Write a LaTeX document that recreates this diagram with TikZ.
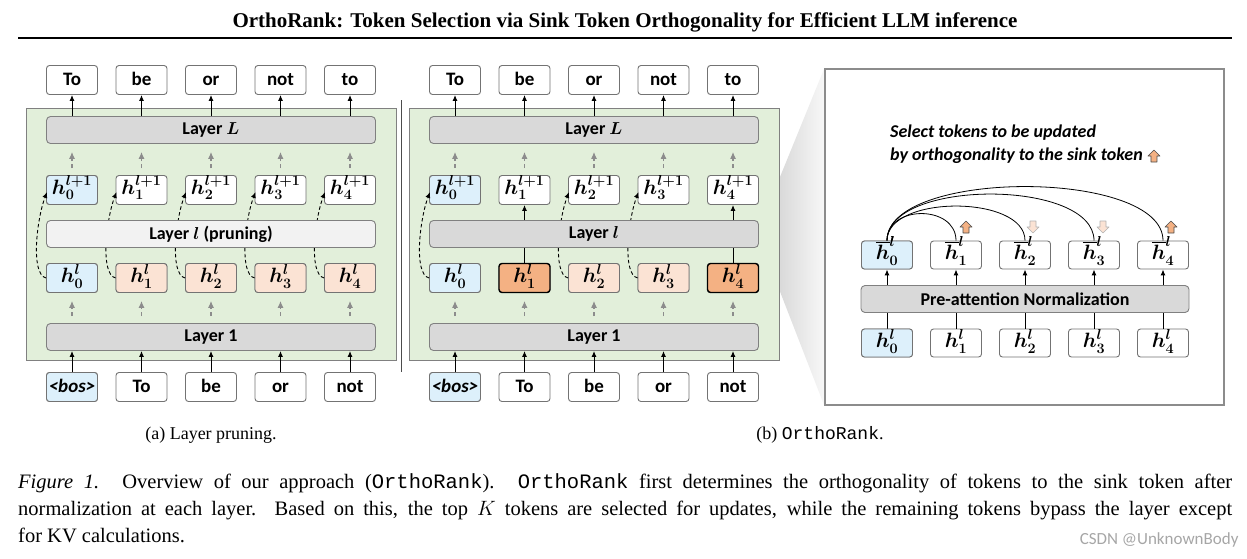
\documentclass[tikz,border=0pt]{standalone}
\usepackage{fontspec}
\usepackage{amsmath,bm}
\setmainfont{Liberation Serif}
\setmonofont{Liberation Mono}
\newfontfamily\carl{Carlito}
\usetikzlibrary{arrows.meta,calc}
\definecolor{grn}{HTML}{E2EFDA}
\definecolor{lblue}{HTML}{DDF0FB}
\definecolor{lor}{HTML}{FBE3D4}
\definecolor{sor}{HTML}{F4B183}
\newcommand\uparr[1]{\draw[fill=sor,draw=black!70,line width=0.6pt,line join=round] (#1) ++(0,-6) -- ++(6,6) -- ++(-3,0) -- ++(0,6) -- ++(-6,0) -- ++(0,-6) -- ++(-3,0) -- cycle;}
\newcommand\dnarr[1]{\draw[fill=lor,draw=black!30,line width=0.6pt,line join=round] (#1) ++(0,6) -- ++(6,-6) -- ++(-3,0) -- ++(0,-6) -- ++(-6,0) -- ++(0,6) -- ++(-3,0) -- cycle;}
\begin{document}
\begin{tikzpicture}[x=1pt,y=-1pt,
 tok/.style={draw=black!55, line width=0.9pt, rounded corners=3pt, fill=white, minimum width=51pt, minimum height=29pt, inner sep=0pt, text height=12pt, text depth=1pt, font=\carl\bfseries\fontsize{19}{19}\selectfont},
 hbox/.style={tok, text height=13pt, text depth=4pt, font=\boldmath\fontsize{20}{20}\selectfont},
 layer/.style={draw=black!50, line width=0.9pt, rounded corners=4pt, fill=black!15, minimum width=329pt, minimum height=27pt, inner sep=0pt, font=\carl\bfseries\fontsize{18}{18}\selectfont},
 arr/.style={-{Latex[length=6pt,width=5pt]}, line width=1pt},
 garr/.style={-{Latex[length=7pt,width=6pt]}, line width=1.1pt, black!45, dash pattern=on 4pt off 3pt},
 curv/.style={-{Latex[length=6pt,width=5pt]}, line width=0.9pt, dash pattern=on 3.5pt off 2.5pt},
 sel/.style={draw=black, line width=1.4pt, fill=sor}]
\useasboundingbox (0,0) rectangle (1247,558);
% title
\node[font=\bfseries\fontsize{21}{21}\selectfont] (title) at (625,22) {OrthoRank: Token Selection via Sink Token Orthogonality for Efficient LLM inference};
\draw[line width=1.2pt] (18,38) coordinate (r1) -- (1232,38) coordinate (r2);
% wedge
\shade[left color=black!20, right color=black!3] (760,226) -- (824,69) -- (824,405) -- (760,240) -- cycle;
% divider
\draw[line width=0.9pt, black!70] (401,100) coordinate (d1) -- (401,372) coordinate (d2);
\foreach \p/\ox in {a/72,b/455}{
  \node[draw=black!50, line width=0.9pt, fill=grn, minimum width=370pt, minimum height=252pt, inner sep=0pt] (\p-g) at ($(\ox,234)+(139,0)$) {};
  \foreach \i/\wo/\wi in {0/To/{\textit{<bos>}},1/be/To,2/or/be,3/not/or,4/to/not}{
    \node[tok] (\p-o\i) at ($(\ox,80)+(69.5*\i,0)$) {\wo};
    \node[tok] (\p-in\i) at ($(\ox,387)+(69.5*\i,0)$) {\wi};
    \node[hbox] (\p-hp\i) at ($(\ox,190)+(69.5*\i,0)$) {$h^{l+1}_{\i}$};
    \node[hbox] (\p-h\i) at ($(\ox,278)+(69.5*\i,0)$) {$h^{l}_{\i}$};
  }
}
% fills
\foreach \p in {a,b}{
  \node[hbox, fill=lblue] at (\p-hp0) {$h^{l+1}_{0}$};
  \node[hbox, fill=lblue] at (\p-h0) {$h^{l}_{0}$};
  \node[tok, fill=lblue] at (\p-in0) {\textit{<bos>}};
}
\foreach \i in {1,2,3,4}{\node[hbox, fill=lor] at (a-h\i) {$h^{l}_{\i}$};}
\foreach \i in {2,3}{\node[hbox, fill=lor] at (b-h\i) {$h^{l}_{\i}$};}
\foreach \i in {1,4}{\node[hbox, sel] at (b-h\i) {$h^{l}_{\i}$};}
% dashed bypass curves
\foreach \p/\i in {a/0,a/1,a/2,a/3,a/4,b/0,b/2,b/3}{
  \draw[curv] (\p-h\i.west) .. controls +(-16,-4) and +(-10,26) .. ($(\p-hp\i.west)+(1,2)$);
}
% layers
\foreach \p/\ox in {a/72,b/455}{
  \node[layer] (\p-LL) at ($(\ox,130)+(139,0)$) {Layer $\bm{L}$};
  \node[layer] (\p-L1) at ($(\ox,337)+(139,0)$) {Layer 1};
  \foreach \i in {0,...,4}{
    \draw[arr] (\p-in\i.north) -- (\p-in\i |- \p-L1.south);
    \draw[arr] (\p-o\i |- \p-LL.north) -- (\p-o\i.south);
    \draw[garr] ($(\p-hp\i.north)+(0,-7)$) -- ($(\p-hp\i |- \p-LL.south)+(0,8)$);
    \draw[garr] ($(\p-L1.north -| \p-h\i)+(0,-7)$) -- ($(\p-h\i.south)+(0,8)$);
  }
}
\node[layer, fill=black!5] (a-Ll) at (211,234) {Layer $\bm{l}$ (pruning)};
\node[layer] (b-Ll) at (594,234) {Layer $\bm{l}$};
\foreach \i in {1,4}{
  \draw[line width=1pt] (b-h\i.north) -- (b-h\i |- b-Ll.south);
  \draw[arr] (b-h\i |- b-Ll.north) -- (b-hp\i.south);
}
% inset
\node[draw=black!45, line width=1.2pt, fill=white, minimum width=399pt, minimum height=336pt, inner sep=0pt] (inset) at (1024.5,237) {};
\node[anchor=west, font=\carl\bfseries\itshape\fontsize{18}{18}\selectfont, inner sep=0pt] (s1) at (890,133) {Select tokens to be updated};
\node[anchor=west, font=\carl\bfseries\itshape\fontsize{18}{18}\selectfont, inner sep=0pt] (s2) at (890,156) {by orthogonality to the sink token};
\uparr{$(s2.east)+(11,0)$}
\node[layer, minimum width=328pt] (norm) at (1025,299) {Pre-attention Normalization};
\foreach \i in {0,...,4}{
  \node[hbox, minimum height=28pt] (ib\i) at ($(887,255)+(69*\i,0)$) {$\overline{h}^{l}_{\i}$};
  \node[hbox, minimum height=28pt] (ih\i) at ($(887,343)+(69*\i,0)$) {$h^{l}_{\i}$};
  \draw[arr] (ib\i |- norm.north) -- (ib\i.south);
  \draw[line width=1pt] (ih\i.north) -- (ih\i |- norm.south);
}
\node[hbox, minimum height=28pt, fill=lblue] at (ib0) {$\overline{h}^{l}_{0}$};
\node[hbox, minimum height=28pt, fill=lblue] at (ih0) {$h^{l}_{0}$};
\foreach \i/\hh in {1/36,2/46,3/62,4/72}{
  \draw[line width=0.8pt] (ib0.north) .. controls +(0,-\hh) and +(0,-\hh) .. (ib\i.north);
}
\uparr{966,227}
\uparr{1171,227}
\dnarr{1033,227}
\dnarr{1103,227}
% captions
\node[font=\fontsize{18}{18}\selectfont] (ca) at (211,435) {(a) Layer pruning.};
\node[font=\fontsize{18}{18}\selectfont] (cb) at (820,435) {(b) \texttt{OrthoRank}.};
\node[anchor=north west, text width=1214pt, align=justify, inner sep=0pt, font=\fontsize{20.5}{27}\selectfont] (cap) at (18,473) {\textit{Figure 1.} Overview of our approach (\texttt{OrthoRank}). \texttt{OrthoRank} first determines the orthogonality of tokens to the sink token after\linebreak normalization at each layer. Based on this, the top $K$ tokens are selected for updates, while the remaining tokens bypass the layer except\linebreak for KV calculations.};
\node[anchor=east, text=black!35, font=\carl\fontsize{17}{17}\selectfont] (wm) at (1242,540) {CSDN @UnknownBody};
\end{tikzpicture}
\end{document}
